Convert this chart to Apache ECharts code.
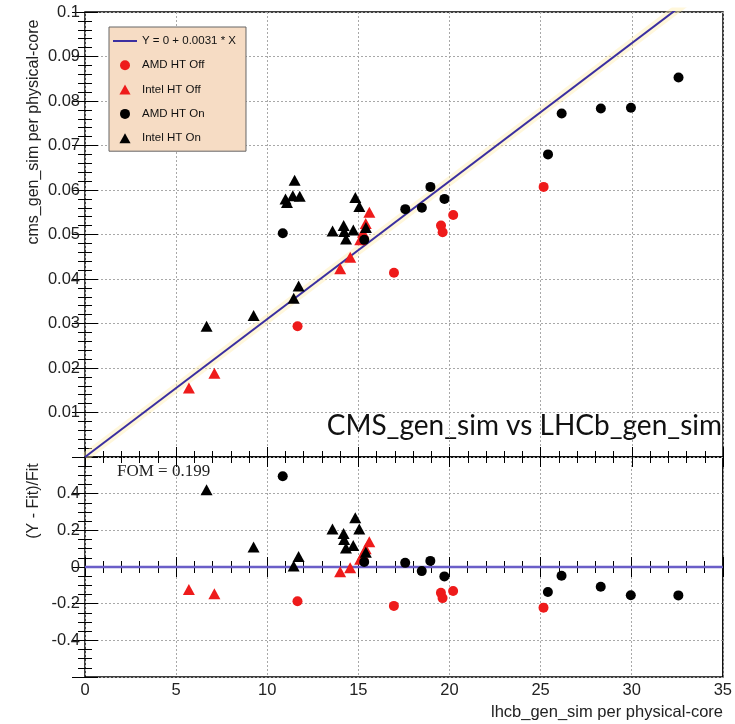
<!DOCTYPE html>
<html>
<head>
<meta charset="utf-8">
<script src="https://cdn.jsdelivr.net/npm/echarts@6/dist/echarts.min.js"></script>
<style>html,body{margin:0;padding:0;background:#fff}#c{width:735px;height:724px}</style>
</head>
<body>
<div id="c"></div>
<script>
// ---- data ----
const fitSlope = 0.0031;
const fitLabel = 'Y = 0 + 0.0031 * X';
const xTicks = [0, 5, 10, 15, 20, 25, 30, 35];

const amdOffX = [11.66, 16.95, 19.53, 19.62, 20.2, 25.16];
const amdOffY = [0.0294, 0.0414, 0.0520, 0.0505, 0.0544, 0.0607];

const intelOffX = [5.7, 7.1, 14.0, 14.55, 15.1, 15.25, 15.4, 15.6];
const intelOffY = [0.0155, 0.0188, 0.0423, 0.0449, 0.0488, 0.0505, 0.0525, 0.0550];

const amdOnX = [10.85, 15.32, 17.57, 18.48, 18.95, 19.72, 25.4, 26.15, 28.3, 29.95, 32.56];
const amdOnY = [0.0503, 0.0488, 0.0557, 0.0560, 0.0607, 0.0580, 0.0680, 0.0772, 0.0783, 0.0785, 0.0853];

const intelOnX = [6.67, 9.25, 11.0, 11.08, 11.4, 11.5, 11.78, 11.45, 11.72, 13.58, 14.19, 14.22, 14.32, 14.72, 14.83, 15.05, 15.41];
const intelOnY = [0.0294, 0.0318, 0.0580, 0.0572, 0.0587, 0.0622, 0.0586, 0.0357, 0.0384, 0.0508, 0.0520, 0.0507, 0.0490, 0.0510, 0.0583, 0.0563, 0.0516];

const fomText = 'FOM = 0.199';
const plotTitle = 'CMS_gen_sim vs LHCb_gen_sim';
const xTitle = 'lhcb_gen_sim per physical-core';
const yTitleTop = 'cms_gen_sim per physical-core';
const yTitleBottom = '(Y - Fit)/Fit';

// ---- build ----
const pts = (xs, ys) => xs.map((x, i) => [x, ys[i]]);
const resid = (xs, ys) => xs.map((x, i) => [x, (ys[i] - fitSlope * x) / (fitSlope * x)]);
const xMin = xTicks[0], xMax = xTicks[xTicks.length - 1];
const fitLine = [[xMin, fitSlope * xMin], [xMax, fitSlope * xMax]];

const RED = '#ee1b1b', BLK = '#000000', FITC = '#3b2fa0';
const TRI = 'path://M5,0L10,9L0,9Z';
const LBL = {fontFamily: 'Liberation Sans', fontSize: 16.5, color: '#222'};
const grid = [
  {left: 85, top: 12, width: 638, height: 445, show: true, borderColor: '#000', borderWidth: 1.5, backgroundColor: 'transparent'},
  {left: 85, top: 457, width: 638, height: 220, show: true, borderColor: '#000', borderWidth: 1.5, backgroundColor: 'transparent'}
];
const split = {show: true, lineStyle: {type: [2, 2], color: '#a8a8a8', width: 1}};
function xa(gi, pos, labels, showSplit) {
  return {type: 'value', gridIndex: gi, position: pos, min: xMin, max: xMax, interval: 5,
    axisLine: {show: false}, axisTick: {show: true, inside: true, length: 10, lineStyle: {color: '#000', width: 1}},
    minorTick: {show: true, splitNumber: 5, length: 6, lineStyle: {color: '#000', width: 1}},
    axisLabel: labels ? Object.assign({show: true, margin: 5}, LBL) : {show: false},
    splitLine: showSplit ? split : {show: false}};
}
function ya(gi, pos, min, max, iv, minorN, labels, showSplit, fmt) {
  return {type: 'value', gridIndex: gi, position: pos, min: min, max: max, interval: iv,
    axisLine: {show: false}, axisTick: {show: true, inside: true, length: 13, lineStyle: {color: '#000', width: 1}},
    minorTick: {show: true, splitNumber: minorN, length: 7, lineStyle: {color: '#000', width: 1}},
    axisLabel: labels ? Object.assign({show: true, margin: 5, formatter: fmt}, LBL) : {show: false},
    splitLine: showSplit ? split : {show: false}};
}
const fmtTop = v => Math.abs(v) < 1e-9 ? '' : String(+v.toFixed(3));
const fmtBot = v => Math.abs(v) > 0.55 ? '' : (Math.abs(v) < 1e-9 ? '0' : String(+v.toFixed(2)));

const sc = (name, data, sym, color, xi, yi, size) => ({
  name: name, type: 'scatter', xAxisIndex: xi, yAxisIndex: yi, data: data, symbol: sym,
  symbolSize: size, itemStyle: {color: color, opacity: 1}, clip: true, z: 5,
  emphasis: {disabled: true}
});

const option = {
  animation: false,
  backgroundColor: '#fff',
  grid: grid,
  xAxis: [xa(0, 'bottom', false, true), xa(0, 'top', false, false), xa(1, 'bottom', true, true), xa(1, 'top', false, false)],
  yAxis: [
    ya(0, 'left', 0, 0.1, 0.01, 5, true, true, fmtTop),
    ya(0, 'right', 0, 0.1, 0.01, 5, false, false),
    ya(1, 'left', -0.6, 0.6, 0.2, 4, true, true, fmtBot),
    ya(1, 'right', -0.6, 0.6, 0.2, 4, false, false)
  ],
  legend: {
    data: [
      {name: fitLabel, icon: 'path://M0,0L24,0L24,2L0,2Z', itemStyle: {color: FITC}},
      {name: 'AMD HT Off', icon: 'circle'},
      {name: 'Intel HT Off', icon: TRI},
      {name: 'AMD HT On', icon: 'circle'},
      {name: 'Intel HT On', icon: TRI}
    ],
    orient: 'vertical', left: 109, top: 27,
    padding: [7, 10, 6, 4], itemGap: 10.3, itemWidth: 24, itemHeight: 10,
    symbolKeepAspect: true,
    backgroundColor: '#f6dcc4', borderColor: '#666', borderWidth: 1,
    textStyle: {fontFamily: 'Liberation Sans', fontSize: 11.5, color: '#111', lineHeight: 14},
    selectedMode: false
  },
  graphic: [
    {type: 'text', right: 13, top: 412, style: {text: plotTitle, font: '28px Lato', fill: '#111'}},
    {type: 'text', left: 117, top: 463, style: {text: fomText, font: '17px "Liberation Serif"', fill: '#222'}},
    {type: 'text', x: 34, y: 132, rotation: Math.PI / 2, style: {text: yTitleTop, font: '16px "Liberation Sans"', fill: '#222', align: 'center', verticalAlign: 'middle'}},
    {type: 'text', x: 34, y: 501, rotation: Math.PI / 2, style: {text: yTitleBottom, font: '16px "Liberation Sans"', fill: '#222', align: 'center', verticalAlign: 'middle'}},
    {type: 'text', x: 723, y: 712, style: {text: xTitle, font: '16.5px "Liberation Sans"', fill: '#222', align: 'right', verticalAlign: 'middle'}}
  ],
  series: [
    {name: 'glow', type: 'line', xAxisIndex: 0, yAxisIndex: 0, data: fitLine, symbol: 'none', clip: true, silent: true,
      lineStyle: {color: 'rgba(255,238,175,0.45)', width: 9}, z: 1},
    {name: fitLabel, type: 'line', xAxisIndex: 0, yAxisIndex: 0, data: fitLine, symbol: 'none', clip: true,
      lineStyle: {color: FITC, width: 2}, itemStyle: {color: FITC}, z: 3},
    {name: fitLabel, type: 'line', xAxisIndex: 2, yAxisIndex: 2, data: [[xMin, 0], [xMax, 0]], symbol: 'none', clip: true,
      lineStyle: {color: '#6a5ec8', width: 2.5}, itemStyle: {color: '#6a5ec8'}, z: 3},
    sc('AMD HT Off', pts(amdOffX, amdOffY), 'circle', RED, 0, 0, 10),
    sc('Intel HT Off', pts(intelOffX, intelOffY), 'triangle', RED, 0, 0, [12, 11]),
    sc('AMD HT On', pts(amdOnX, amdOnY), 'circle', BLK, 0, 0, 10),
    sc('Intel HT On', pts(intelOnX, intelOnY), 'triangle', BLK, 0, 0, [12, 11]),
    sc('AMD HT Off', resid(amdOffX, amdOffY), 'circle', RED, 2, 2, 10),
    sc('Intel HT Off', resid(intelOffX, intelOffY), 'triangle', RED, 2, 2, [12, 11]),
    sc('AMD HT On', resid(amdOnX, amdOnY), 'circle', BLK, 2, 2, 10),
    sc('Intel HT On', resid(intelOnX, intelOnY), 'triangle', BLK, 2, 2, [12, 11])
  ]
};
const chart = echarts.init(document.getElementById('c'), null, {renderer: 'canvas'});
chart.setOption(option);
</script>
</body>
</html>
